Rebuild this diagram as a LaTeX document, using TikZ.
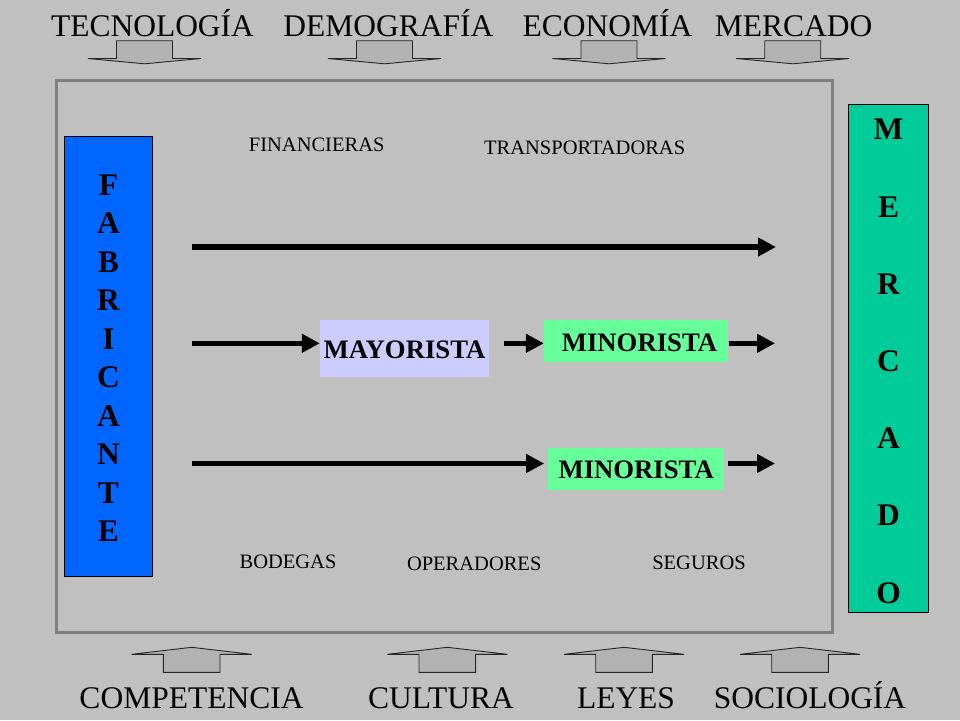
\documentclass[tikz,border=0pt]{standalone}
\usepackage{fontspec}
\setmainfont{Liberation Serif}
\usetikzlibrary{arrows.meta}
\definecolor{bg}{RGB}{192,192,192}
\definecolor{framegray}{RGB}{128,128,128}
\definecolor{arrowgray}{RGB}{178,178,178}
\definecolor{fabblue}{RGB}{0,102,255}
\definecolor{mercgreen}{RGB}{0,204,153}
\definecolor{mayblue}{RGB}{204,204,255}
\definecolor{mingreen}{RGB}{102,255,153}
\begin{document}
\begin{tikzpicture}[x=1pt,y=-1pt,
  factor/.style={font=\fontsize{31.5}{36}\selectfont, inner sep=0pt},
  agent/.style={font=\fontsize{20.5}{24}\selectfont, inner sep=0pt},
  boxnode/.style={rectangle, inner sep=0pt},
  boxtext/.style={font=\fontsize{26.7}{30}\selectfont\bfseries, inner sep=0pt},
  tallbox/.style={rectangle, inner sep=0pt, draw=black, line width=1pt},
  tallfont/.style={font=\fontsize{31.5}{#1}\selectfont\bfseries, align=center, inner sep=0pt},
  flow/.style={line width=5.5pt, -{Triangle[length=18pt,width=18pt]}},
  blockarrow/.style={fill=arrowgray, draw=black!85, line width=0.9pt, line join=miter}]
\useasboundingbox (0,0) rectangle (960,720);
\fill[bg] (0,0) rectangle (960,720);
% frame
\draw[framegray, line width=3pt] (56.5,80.8) rectangle (832.7,632.7);
% top factors
\node[factor, anchor=base] (tec) at (152.5,36) {TECNOLOGÍA};
\node[factor, anchor=base] (dem) at (388.5,36) {DEMOGRAFÍA};
\node[factor, anchor=base] (eco) at (607.5,36) {ECONOMÍA};
\node[factor, anchor=base] (mer) at (793.5,36) {MERCADO};
\foreach \c in {144.5,384.5,609,792.7}
  \draw[blockarrow] ({\c-28},40.7) -- ({\c+28},40.7) -- ({\c+28},58.5) -- ({\c+56.5},58.5)
    -- (\c,63.8) -- ({\c-56.5},58.5) -- ({\c-28},58.5) -- cycle;
% bottom factors
\node[factor, anchor=base] (com) at (191.5,708) {COMPETENCIA};
\node[factor, anchor=base] (cul) at (441,708) {CULTURA};
\node[factor, anchor=base] (ley) at (626,708) {LEYES};
\node[factor, anchor=base] (soc) at (810,708) {SOCIOLOGÍA};
\foreach \c in {191.7,447.3,624,800}
  \draw[blockarrow] ({\c-28.3},672.3) -- ({\c+28.3},672.3) -- ({\c+28.3},654.3) -- ({\c+60},654.3)
    -- (\c,647.3) -- ({\c-60},654.3) -- ({\c-28.3},654.3) -- cycle;
% tall boxes
\node[tallbox, fill=fabblue, minimum width=88.4pt, minimum height=440.4pt,
  label={[tallfont=38.55, yshift=-1.7pt]center:F\\A\\B\\R\\I\\C\\A\\N\\T\\E}] (fab) at (108.5,356.5) {};
\node[tallbox, fill=mercgreen, minimum width=80.4pt, minimum height=508.4pt,
  label={[tallfont=77.2, yshift=-2.9pt]center:M\\E\\R\\C\\A\\D\\O}] (merc) at (888.5,358.5) {};
% agents
\node[agent] (fin) at (316.7,145.3) {FINANCIERAS};
\node[agent] (tra) at (584.7,147.7) {TRANSPORTADORAS};
\node[agent] (bod) at (288,562) {BODEGAS};
\node[agent] (ope) at (474.2,563.7) {OPERADORES};
\node[agent] (seg) at (699,563) {SEGUROS};
% channel boxes
\node[boxnode, fill=mayblue, minimum width=169pt, minimum height=57pt,
  label={[boxtext, yshift=-1.5pt]center:MAYORISTA}] (may) at (404.5,348.5) {};
\node[boxnode, fill=mingreen, minimum width=184.3pt, minimum height=41.7pt,
  label={[boxtext, xshift=3.3pt, yshift=-1.7pt]center:MINORISTA}] (min1) at (636.2,340.8) {};
\node[boxnode, fill=mingreen, minimum width=175.7pt, minimum height=42.3pt,
  label={[boxtext, yshift=-1.2pt]center:MINORISTA}] (min2) at (636.2,468.8) {};
% flows
\coordinate (r1s) at (192,247);
\coordinate (r1e) at (776,247);
\draw[flow] (r1s) -- (r1e);
\coordinate (r2s) at (192,343.3);
\coordinate (r2e) at (775,343.3);
\draw[flow] (r2s) -- (r2s -| may.west);
\draw[flow, shorten <=15pt] (may.east |- r2s) -- (r2s -| min1.west);
\draw[flow] (r2s -| min1.east) -- (r2e);
\coordinate (r3s) at (192,463.5);
\coordinate (r3e) at (775,463.5);
\draw[flow, shorten >=4pt] (r3s) -- (r3s -| min2.west);
\draw[flow, shorten <=4pt] (r3s -| min2.east) -- (r3e);
\end{tikzpicture}
\end{document}
